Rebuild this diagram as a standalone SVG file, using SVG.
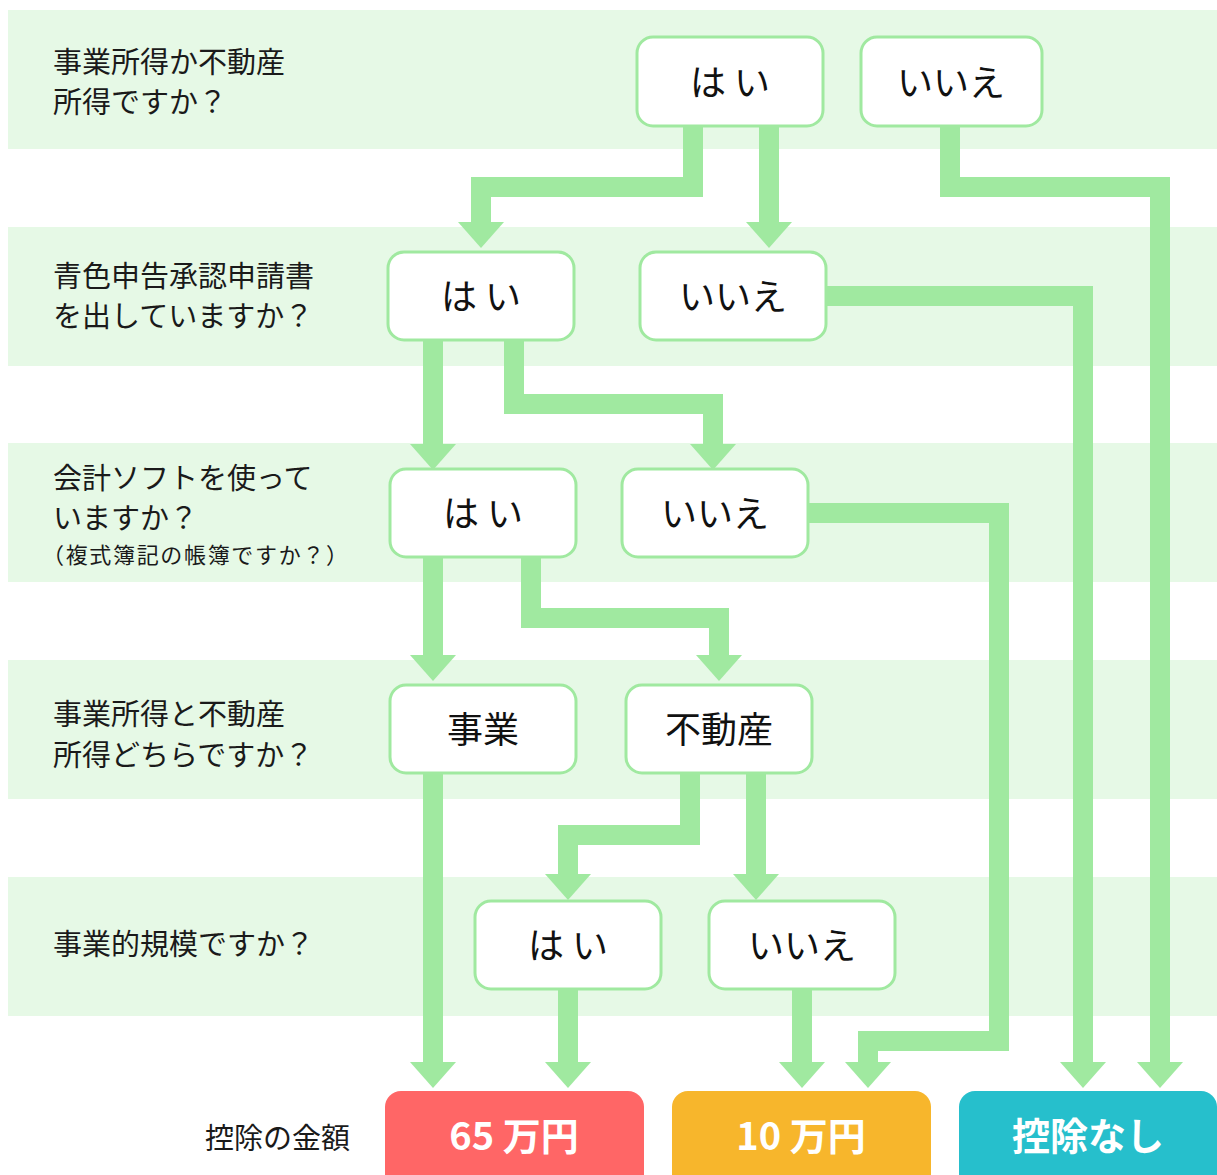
<svg xmlns="http://www.w3.org/2000/svg" xmlns:xlink="http://www.w3.org/1999/xlink" width="1217" height="1175" viewBox="0 0 1217 1175">
<style>
.band{fill:#e6f9e6}
.q{font-family:"Noto Sans CJK JP","Noto Sans",sans-serif;font-size:29px;fill:#1a1a1a}
.qs{font-size:22px}
.node rect{fill:#fff;stroke:#a0e9a0;stroke-width:3}
.nt{font-family:"Noto Sans CJK JP","Noto Sans",sans-serif;font-size:36px;fill:#111;text-anchor:middle;dominant-baseline:central}
.conn path{fill:none;stroke:#a0e9a0;stroke-width:20;stroke-linejoin:miter;stroke-linecap:butt}
.head{fill:#a0e9a0}
.rt{font-family:"Noto Sans CJK JP","Noto Sans",sans-serif;font-size:38px;font-weight:bold;fill:#fff;text-anchor:middle}
</style>
<defs>
<polygon id="ah" class="head" points="-23,0 23,0 0,26"/>
</defs>
<g id="bands">
<rect class="band" x="8" y="10" width="1209" height="139"/>
<rect class="band" x="8" y="227" width="1209" height="139"/>
<rect class="band" x="8" y="443" width="1209" height="139"/>
<rect class="band" x="8" y="660" width="1209" height="139"/>
<rect class="band" x="8" y="877" width="1209" height="139"/>
</g>
<g id="questions" class="q">
<text x="53" y="73">事業所得か不動産</text>
<text x="53" y="113">所得ですか？</text>
<text x="53" y="287">青色申告承認申請書</text>
<text x="53" y="327">を出していますか？</text>
<text x="53" y="489">会計ソフトを使って</text>
<text x="53" y="529">いますか？</text>
<text x="42" y="563" class="qs" textLength="306" lengthAdjust="spacing">（複式簿記の帳簿ですか？）</text>
<text x="53" y="725">事業所得と不動産</text>
<text x="53" y="766">所得どちらですか？</text>
<text x="53" y="955">事業的規模ですか？</text>
<text x="205" y="1149">控除の金額</text>
</g>
<g id="connectors" class="conn">
<path d="M693,125 V187 H481 V222"/>
<path d="M769,125 V222"/>
<path d="M950,125 V187 H1160 V1062"/>
<path d="M825,296 H1083 V1062"/>
<path d="M433,339 V444"/>
<path d="M514,339 V404 H713 V444"/>
<path d="M807,513 H999 V1041 H868 V1062"/>
<path d="M433,556 V655"/>
<path d="M531,556 V618 H719 V655"/>
<path d="M433,772 V1062"/>
<path d="M690,772 V835 H568 V874"/>
<path d="M756,772 V874"/>
<path d="M568,988 V1062"/>
<path d="M802,988 V1062"/>
<use xlink:href="#ah" href="#ah" x="481" y="222"/>
<use xlink:href="#ah" href="#ah" x="769" y="222"/>
<use xlink:href="#ah" href="#ah" x="1160" y="1062"/>
<use xlink:href="#ah" href="#ah" x="1083" y="1062"/>
<use xlink:href="#ah" href="#ah" x="433" y="444"/>
<use xlink:href="#ah" href="#ah" x="713" y="444"/>
<use xlink:href="#ah" href="#ah" x="868" y="1062"/>
<use xlink:href="#ah" href="#ah" x="433" y="655"/>
<use xlink:href="#ah" href="#ah" x="719" y="655"/>
<use xlink:href="#ah" href="#ah" x="433" y="1062"/>
<use xlink:href="#ah" href="#ah" x="568" y="874"/>
<use xlink:href="#ah" href="#ah" x="756" y="874"/>
<use xlink:href="#ah" href="#ah" x="568" y="1062"/>
<use xlink:href="#ah" href="#ah" x="802" y="1062"/>
</g>
<g id="n1-yes" class="node"><rect x="637" y="37" width="186" height="89" rx="16"/><text class="nt" x="730" y="80">は い</text></g>
<g id="n1-no" class="node"><rect x="861" y="37" width="181" height="89" rx="16"/><text class="nt" x="951" y="80">いいえ</text></g>
<g id="n2-yes" class="node"><rect x="388" y="252" width="186" height="88" rx="16"/><text class="nt" x="481" y="294">は い</text></g>
<g id="n2-no" class="node"><rect x="640" y="252" width="186" height="88" rx="16"/><text class="nt" x="733" y="294">いいえ</text></g>
<g id="n3-yes" class="node"><rect x="390" y="469" width="186" height="88" rx="16"/><text class="nt" x="483" y="511">は い</text></g>
<g id="n3-no" class="node"><rect x="622" y="469" width="186" height="88" rx="16"/><text class="nt" x="715" y="511">いいえ</text></g>
<g id="n4-biz" class="node"><rect x="390" y="685" width="186" height="88" rx="16"/><text class="nt" x="483" y="727">事業</text></g>
<g id="n4-re" class="node"><rect x="626" y="685" width="186" height="88" rx="16"/><text class="nt" x="719" y="727">不動産</text></g>
<g id="n5-yes" class="node"><rect x="475" y="901" width="186" height="88" rx="16"/><text class="nt" x="568" y="943">は い</text></g>
<g id="n5-no" class="node"><rect x="709" y="901" width="186" height="88" rx="16"/><text class="nt" x="802" y="943">いいえ</text></g>
<g id="r65"><rect x="385" y="1091" width="259" height="100" rx="16" fill="#ff6666"/><text class="rt" x="514" y="1150">65 万円</text></g>
<g id="r10"><rect x="672" y="1091" width="259" height="100" rx="16" fill="#f7b62c"/><text class="rt" x="801" y="1150">10 万円</text></g>
<g id="rnone"><rect x="959" y="1091" width="258" height="100" rx="16" fill="#26bfcc"/><text class="rt" x="1088" y="1150">控除なし</text></g>
</svg>
